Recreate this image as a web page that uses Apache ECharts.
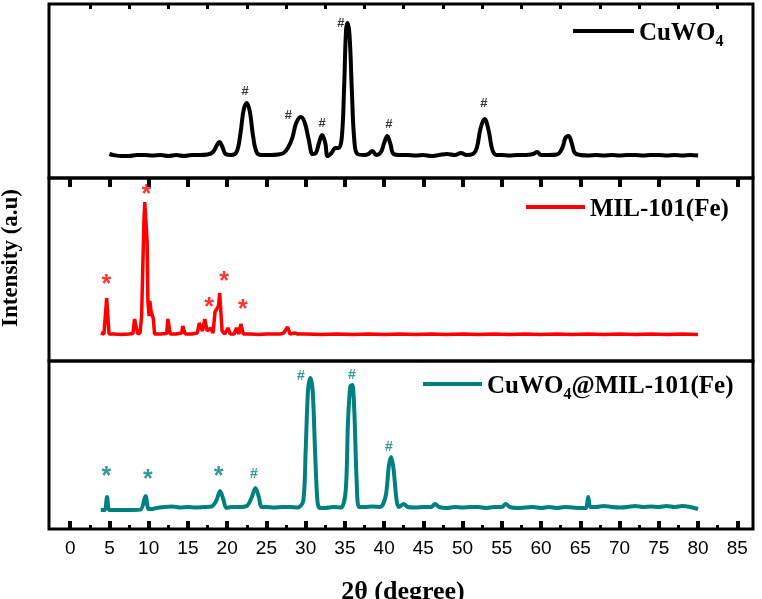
<!DOCTYPE html>
<html>
<head>
<meta charset="utf-8">
<script src="https://cdn.jsdelivr.net/npm/echarts@6/dist/echarts.min.js"></script>
<style>html,body{margin:0;padding:0;background:#fff}#c{width:762px;height:599px}</style>
</head>
<body>
<div id="c"></div>
<script>
// ---- data (2θ in degrees, intensity in arbitrary units) ----
const majorTicks = [0,5,10,15,20,25,30,35,40,45,50,55,60,65,70,75,80,85];
const minorTicks = [2.5,7.5,12.5,17.5,22.5,27.5,32.5,37.5,42.5,47.5,52.5,57.5,62.5,67.5,72.5,77.5,82.5];
const seriesNames = ['CuWO4','MIL-101(Fe)','CuWO4@MIL-101(Fe)'];

const cuwo4 = [
 [5.0,24],[5.5,23],[6.5,22],[7.5,22],[8.5,23],[9.5,23],[10.5,22.5],[11.5,23],[12.5,22],[13.5,23],
 [14.5,22],[15.5,23],[16.5,23],[17.5,23.5],[18.2,26],[18.7,33],[19.0,36],[19.4,31],[19.8,24],[20.5,23],
 [21.2,26],[21.7,45],[22.1,68],[22.5,75],[22.9,66],[23.3,42],[23.8,25],[24.5,23],[25.5,23],[26.5,23.5],
 [27.2,25],[27.8,31],[28.3,40],[28.8,55],[29.4,61],[29.9,55],[30.4,38],[30.9,24],[31.3,25],[31.7,35],
 [32.1,43],[32.5,35],[32.8,22],[33.3,25],[33.8,30],[34.2,30],[34.6,40],[34.9,90],[35.15,148],[35.35,155],
 [35.6,142],[35.9,85],[36.2,38],[36.6,24],[37.5,23],[38.0,24],[38.5,27],[39.0,23],[39.6,26],[40.0,35],
 [40.4,42],[40.8,34],[41.2,24],[42,23],[43,23],[44,22.5],[45,23],[46,22],[47,23],[48,24],
 [49,23],[49.8,25],[50.5,23],[51.3,24],[51.8,30],[52.3,50],[52.8,59],[53.3,48],[53.8,28],[54.3,23],
 [55,23],[56,22.5],[57,23],[58,23],[59,24],[59.5,26],[60,23],[61,23],[62,23.5],[62.7,30],
 [63.1,40],[63.5,42],[63.9,35],[64.3,25],[65,23],[66,22.5],[67,23],[68,22.5],[69,23],[70,22.5],
 [71,23],[72,23],[73,22.5],[74,23],[75,23],[76,22.5],[77,23],[78,22.5],[79,23],[80,22.5]
];

const mil = [
 [3.9,28],[4.3,27],[4.5,28],[4.65,63],[4.8,63],[4.95,27],[5.5,27],[6.5,26.5],[7.5,27],[8.0,27.5],
 [8.2,42],[8.4,43],[8.6,27],[8.9,28],[9.1,45],[9.25,93],[9.4,140],[9.5,159],[9.65,159],[9.8,120],
 [9.9,60],[10.05,45],[10.15,60],[10.3,50],[10.45,48],[10.6,42],[10.75,27],[11.5,27],[12.3,27.5],[12.45,42],
 [12.6,42],[12.75,27],[13.5,27],[14.2,28],[14.35,35],[14.5,35],[14.65,27],[15.5,27],[16.2,28],[16.45,38],
 [16.6,38],[16.85,30],[17.15,42],[17.3,42],[17.45,30],[17.9,33],[18.05,35],[18.2,28],[18.45,49],[18.65,50],
 [18.9,55],[19.05,68],[19.2,68],[19.35,30],[19.7,27],[20.1,33],[20.25,33],[20.4,27],[20.9,27],[21.2,33],
 [21.35,33],[21.5,27],[21.75,37],[21.9,37],[22.05,27],[23,27],[24,26.5],[25,27],[26,27],[26.8,27],
 [27.2,28],[27.7,34],[27.85,34],[28.0,27],[28.6,28],[28.8,30],[29.0,27],[30,27],[32,26.5],[34,27],
 [36,26.5],[38,27],[40,26.5],[42,27],[44,26.5],[46,27],[48,26.5],[50,27],[52,26.5],[54,27],
 [56,26.5],[58,27],[60,26.5],[62,27],[64,26.5],[66,27],[68,26.5],[70,27],[72,26.5],[74,27],
 [76,26.5],[78,27],[80,26.5]
];

const composite = [
 [3.9,21],[4.4,21],[4.7,34],[5.0,21],[6,21],[7,21],[8,21],[9.0,21.5],[9.6,35],
 [10.0,22],[10.5,22],[11,23],[12,24],[13,24.5],[14,23.5],[15,24],[16,23.5],[17,24],
 [18,24.5],[18.6,30],[19.1,40],[19.5,32],[19.9,23],[20.5,24],[21.5,24],[22.5,25],[23.1,33],[23.6,43],
 [24.0,35],[24.4,24],[25,24],[26,23.5],[27,24],[28,24],[29,23.5],[29.7,30],[30.0,80],[30.3,140],
 [30.6,153],[30.9,140],[31.2,80],[31.5,30],[31.8,23],[32.5,23],[33.5,24],[34.5,23.5],[35.1,40],[35.4,110],
 [35.7,145],[35.95,146],[36.2,120],[36.5,50],[36.8,24],[37.5,24],[38.5,24.5],[39.5,24],[40.2,35],[40.6,65],
 [40.9,74],[41.2,62],[41.6,30],[41.9,24],[42.5,27],[43,24],[44,23.5],[45,24],[46,24],[46.5,27],
 [47,24],[48,23],[49,24],[50,23.5],[51,24],[52,24],[53,23],[54,24],[55,24],[55.5,27],
 [56,24],[57,23],[58,23.5],[59,24],[60,23],[61,24],[62,23],[63,24],[64,23.5],[65,23],
 [65.7,23],[66.0,34],[66.3,24],[67,24],[68,25],[69,24],[70,23.5],[71,24],[72,25],
 [73,24],[74,24.5],[75,24],[76,25],[77,24],[78,25],[79,24],[80,22]
];

// peak markers: [2θ, intensity]
const cuwo4Hash = [[22.3,87],[27.8,63],[32.1,55],[34.5,155],[40.6,54],[52.7,75]];
const milStar = [[4.6,76],[9.7,166],[17.7,53],[19.6,79],[22.0,51]];
const compStar = [[4.6,54],[9.9,51],[18.9,54]];
const compHash = [[23.4,57],[29.4,155],[35.9,156],[40.6,84]];

// ---- chart ----
const chart = echarts.init(document.getElementById('c'), null, {renderer:'canvas'});
const serif = 'Liberation Serif';
const black = '#000', red = '#ff0000', teal = '#008080';
const L = 49, R = 9;
const xMin = -2.7, xMax = 87;
const grids = [
  {left:L, right:R, top:4, height:174},
  {left:L, right:R, top:178, height:183},
  {left:L, right:R, top:361, height:168}
].map(g => Object.assign(g, {show:true, borderColor:black, borderWidth:3, containLabel:false}));

function xa(gi, opts) {
  return Object.assign({
    type:'value', gridIndex:gi, min:xMin, max:xMax,
    axisLine:{show:false}, splitLine:{show:false},
    axisTick:{show:false}, axisLabel:{show:false}
  }, opts);
}
const xAxes = [
  xa(0,{position:'top', axisTick:{show:true, inside:true, length:9, customValues:majorTicks, lineStyle:{color:black,width:4}}}),
  xa(0,{position:'top', axisTick:{show:true, inside:true, length:5, customValues:minorTicks, lineStyle:{color:black,width:3}}}),
  xa(1,{}),
  xa(2,{position:'bottom',
    axisTick:{show:true, inside:true, length:8, customValues:majorTicks, lineStyle:{color:black,width:4}},
    axisLabel:{show:true, customValues:majorTicks, margin:10, color:black, fontFamily:'Liberation Sans', fontSize:19}}),
  xa(2,{position:'bottom', axisTick:{show:true, inside:true, length:4, customValues:minorTicks, lineStyle:{color:black,width:3}}})
];
const yAxes = [
  {type:'value', gridIndex:0, min:0, max:174},
  {type:'value', gridIndex:1, min:0, max:183},
  {type:'value', gridIndex:2, min:2, max:170}
].map(a => Object.assign(a, {show:false, splitLine:{show:false}}));

function markers(xi, yi, data, text, color, size) {
  return {
    type:'scatter', xAxisIndex:xi, yAxisIndex:yi, data:data, symbolSize:1,
    itemStyle:{color:'transparent'}, silent:true,
    label:{show:true, position:'inside', formatter:text, color:color,
      fontFamily:'Liberation Sans', fontWeight:'bold', fontSize:size}
  };
}

const rich = {
  a:{fontFamily:serif, fontWeight:'bold', fontSize:25, color:black, lineHeight:30, verticalAlign:'bottom'},
  s:{fontFamily:serif, fontWeight:'bold', fontSize:16, color:black, lineHeight:30, verticalAlign:'bottom', padding:[0,0,-4,0]}
};
function fmt(n) {
  if (n === 'CuWO4') return '{a|CuWO}{s|4}';
  if (n === 'CuWO4@MIL-101(Fe)') return '{a|CuWO}{s|4}{a|@MIL-101(Fe)}';
  return '{a|' + n + '}';
}
function leg(name, left, top, w) {
  return {data:[name], left:left, top:top, orient:'horizontal', icon:'rect', itemWidth:w, itemHeight:4,
    itemGap:5, padding:0, selectedMode:false, formatter:fmt, textStyle:{rich:rich}};
}

chart.setOption({
  animation:false,
  backgroundColor:'#fff',
  grid:grids,
  xAxis:xAxes,
  yAxis:yAxes,
  legend:[leg(seriesNames[0],573,21,61), leg(seriesNames[1],526,197,59), leg(seriesNames[2],423,374,59)],
  graphic:[
    {type:'text', x:11, y:258, rotation:Math.PI/2,
      style:{text:'Intensity (a.u)', fontFamily:serif, fontWeight:'bold', fontSize:23, fill:black,
        textAlign:'center', textVerticalAlign:'middle'}},
    {type:'text', x:403, y:592,
      style:{text:'2θ (degree)', fontFamily:serif, fontWeight:'bold', fontSize:26, fill:black,
        textAlign:'center', textVerticalAlign:'middle'}}
  ],
  series:[
    {name:seriesNames[0], type:'line', xAxisIndex:0, yAxisIndex:0, data:cuwo4, smooth:0.4, showSymbol:false,
      lineStyle:{color:black, width:4}, itemStyle:{color:black}},
    {name:seriesNames[1], type:'line', xAxisIndex:2, yAxisIndex:1, data:mil, showSymbol:false,
      lineStyle:{color:red, width:3.5}, itemStyle:{color:red}},
    {name:seriesNames[2], type:'line', xAxisIndex:3, yAxisIndex:2, data:composite, smooth:0.3, showSymbol:false,
      lineStyle:{color:teal, width:4}, itemStyle:{color:teal}},
    markers(0,0,cuwo4Hash,'#',black,13),
    markers(2,1,milStar,'*',red,25),
    markers(3,2,compStar,'*',teal,25),
    markers(3,2,compHash,'#',teal,14)
  ]
});
</script>
</body>
</html>
